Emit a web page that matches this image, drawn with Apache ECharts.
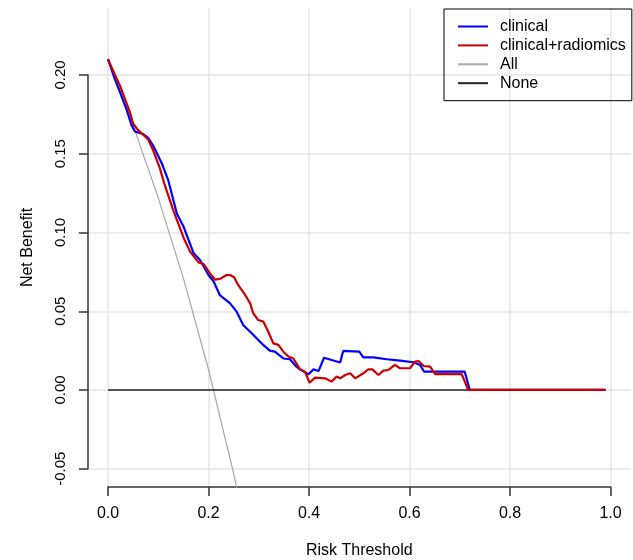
<!DOCTYPE html>
<html>
<head>
<meta charset="utf-8">
<script src="https://cdn.jsdelivr.net/npm/echarts@6/dist/echarts.min.js"></script>
<style>html,body{margin:0;padding:0;background:#fff}#c{width:633px;height:560px}</style>
</head>
<body>
<div id="c"></div>
<script>
const seriesNames = ['clinical', 'clinical+radiomics', 'All', 'None'];
const xTicks = [0, 0.2, 0.4, 0.6, 0.8, 1.0];
const yTicks = [-0.05, 0, 0.05, 0.10, 0.15, 0.20];

const clinicalX = [0, 0.014, 0.024, 0.037, 0.047, 0.054, 0.07, 0.08, 0.09, 0.107, 0.12, 0.137, 0.15, 0.17, 0.183, 0.2, 0.21, 0.223, 0.243, 0.256, 0.269, 0.289, 0.309, 0.322, 0.332, 0.349, 0.362, 0.375, 0.382, 0.399, 0.409, 0.419, 0.43, 0.445, 0.462, 0.468, 0.5, 0.508, 0.528, 0.555, 0.581, 0.608, 0.621, 0.629, 0.71, 0.72, 0.99];
const clinicalY = [0.21, 0.197, 0.189, 0.178, 0.168, 0.164, 0.1625, 0.16, 0.155, 0.144, 0.133, 0.112, 0.104, 0.087, 0.0825, 0.073, 0.069, 0.060, 0.055, 0.0497, 0.0413, 0.035, 0.0286, 0.025, 0.0243, 0.020, 0.0195, 0.0148, 0.0131, 0.010, 0.0131, 0.012, 0.0205, 0.019, 0.0174, 0.0248, 0.0243, 0.0207, 0.0207, 0.0195, 0.0186, 0.0176, 0.0159, 0.0116, 0.0116, 0, 0];

const radiomicsX = [0, 0.014, 0.024, 0.037, 0.044, 0.05, 0.06, 0.07, 0.08, 0.09, 0.103, 0.113, 0.13, 0.15, 0.163, 0.18, 0.19, 0.203, 0.213, 0.223, 0.236, 0.243, 0.251, 0.259, 0.273, 0.283, 0.289, 0.299, 0.309, 0.319, 0.329, 0.339, 0.349, 0.359, 0.369, 0.382, 0.392, 0.401, 0.412, 0.432, 0.445, 0.455, 0.462, 0.472, 0.482, 0.492, 0.508, 0.518, 0.526, 0.538, 0.548, 0.558, 0.571, 0.581, 0.601, 0.611, 0.618, 0.628, 0.641, 0.651, 0.704, 0.717, 0.99];
const radiomicsY = [0.21, 0.2, 0.193, 0.182, 0.176, 0.169, 0.165, 0.162, 0.159, 0.152, 0.141, 0.13, 0.114, 0.097, 0.088, 0.081, 0.080, 0.074, 0.070, 0.0705, 0.073, 0.073, 0.0716, 0.0667, 0.0603, 0.055, 0.0487, 0.0444, 0.0434, 0.037, 0.0296, 0.0286, 0.0243, 0.0212, 0.020, 0.0131, 0.0116, 0.0046, 0.0078, 0.0074, 0.0053, 0.0085, 0.0074, 0.0095, 0.0106, 0.0074, 0.0106, 0.0131, 0.0131, 0.0095, 0.0123, 0.0127, 0.0159, 0.0138, 0.0138, 0.018, 0.0184, 0.0152, 0.0148, 0.010, 0.010, 0, 0];

const allX = [0, 0.05, 0.1, 0.15, 0.2, 0.25, 0.26];
const allY = [0.21, 0.168, 0.122, 0.071, 0.013, -0.053, -0.068];

const noneX = [0, 0.99];
const noneY = [0, 0];

const pairs = (xs, ys) => xs.map((x, i) => [x, ys[i]]);

const FONT = 'Liberation Sans, Arial, sans-serif';
const AXIS_COLOR = '#333';
const GRID_COLOR = '#e6e6e6';

const chart = echarts.init(document.getElementById('c'), null, {renderer: 'canvas'});
chart.setOption({
  animation: false,
  backgroundColor: '#fff',
  grid: [
    {left: 87.9, right: 2.4, top: 8, bottom: 73, outerBoundsMode: 'none', containLabel: false},
    {left: 108, right: 22.5, top: 8, bottom: 73, outerBoundsMode: 'none', containLabel: false},
    {left: 87.9, right: 2.4, top: 75, bottom: 91.25, outerBoundsMode: 'none', containLabel: false}
  ],
  xAxis: [
    {gridIndex: 0, type: 'value', min: -0.04, max: 1.04, show: true,
     axisLine: {show: false}, axisTick: {show: false}, axisLabel: {show: false}, splitLine: {show: false},
     name: 'Risk Threshold', nameLocation: 'middle', nameGap: 56,
     nameTextStyle: {fontFamily: FONT, fontSize: 16, color: '#000'}},
    {gridIndex: 1, type: 'value', min: 0, max: 1, interval: 0.2,
     axisLine: {show: true, lineStyle: {color: AXIS_COLOR, width: 1.5}},
     axisTick: {show: true, length: 9, lineStyle: {color: AXIS_COLOR, width: 1.5}},
     axisLabel: {show: true, margin: 19, fontFamily: FONT, fontSize: 16, color: '#000',
       formatter: v => v.toFixed(1)},
     splitLine: {show: true, lineStyle: {color: GRID_COLOR, width: 1.5}}},
    {gridIndex: 2, type: 'value', min: 0, max: 1, show: false}
  ],
  yAxis: [
    {gridIndex: 0, type: 'value', min: -0.0616, max: 0.2425, show: true,
     axisLine: {show: false}, axisTick: {show: false}, axisLabel: {show: false}, splitLine: {show: false},
     name: 'Net Benefit', nameLocation: 'middle', nameGap: 52, nameRotate: 90,
     nameTextStyle: {fontFamily: FONT, fontSize: 16, color: '#000'}},
    {gridIndex: 1, type: 'value', min: 0, max: 1, show: false},
    {gridIndex: 2, type: 'value', min: -0.05, max: 0.20, interval: 0.05,
     axisLine: {show: true, lineStyle: {color: AXIS_COLOR, width: 1.5}},
     axisTick: {show: true, length: 9, lineStyle: {color: AXIS_COLOR, width: 1.5}},
     axisLabel: {show: true, rotate: 90, margin: 20, fontFamily: FONT, fontSize: 15, color: '#000',
       formatter: v => v.toFixed(2)},
     splitLine: {show: true, lineStyle: {color: GRID_COLOR, width: 1.5}}}
  ],
  legend: {
    data: seriesNames,
    orient: 'vertical',
    left: 444, top: 9,
    padding: [8.5, 6, 8.5, 14],
    itemGap: 0.9,
    itemWidth: 30, itemHeight: 2,
    icon: 'rect',
    borderColor: '#000', borderWidth: 1,
    textStyle: {fontFamily: FONT, fontSize: 16, color: '#000', lineHeight: 18, padding: [0, 0, 0, 7]}
  },
  series: [
    {name: 'All', type: 'line', xAxisIndex: 0, yAxisIndex: 0, data: pairs(allX, allY),
     showSymbol: false, symbol: 'none', color: '#a8a8a8', lineStyle: {width: 1.2, color: '#a8a8a8'}, clip: true},
    {name: 'None', type: 'line', xAxisIndex: 0, yAxisIndex: 0, data: pairs(noneX, noneY),
     showSymbol: false, symbol: 'none', color: '#222', lineStyle: {width: 1.5, color: '#222'}},
    {name: 'clinical', type: 'line', xAxisIndex: 0, yAxisIndex: 0, data: pairs(clinicalX, clinicalY),
     showSymbol: false, symbol: 'none', color: '#0000ff', lineStyle: {width: 2.2, color: '#0000ff'}},
    {name: 'clinical+radiomics', type: 'line', xAxisIndex: 0, yAxisIndex: 0, data: pairs(radiomicsX, radiomicsY),
     showSymbol: false, symbol: 'none', color: '#cc0000', lineStyle: {width: 2.2, color: '#cc0000'}}
  ]
});
</script>
</body>
</html>
